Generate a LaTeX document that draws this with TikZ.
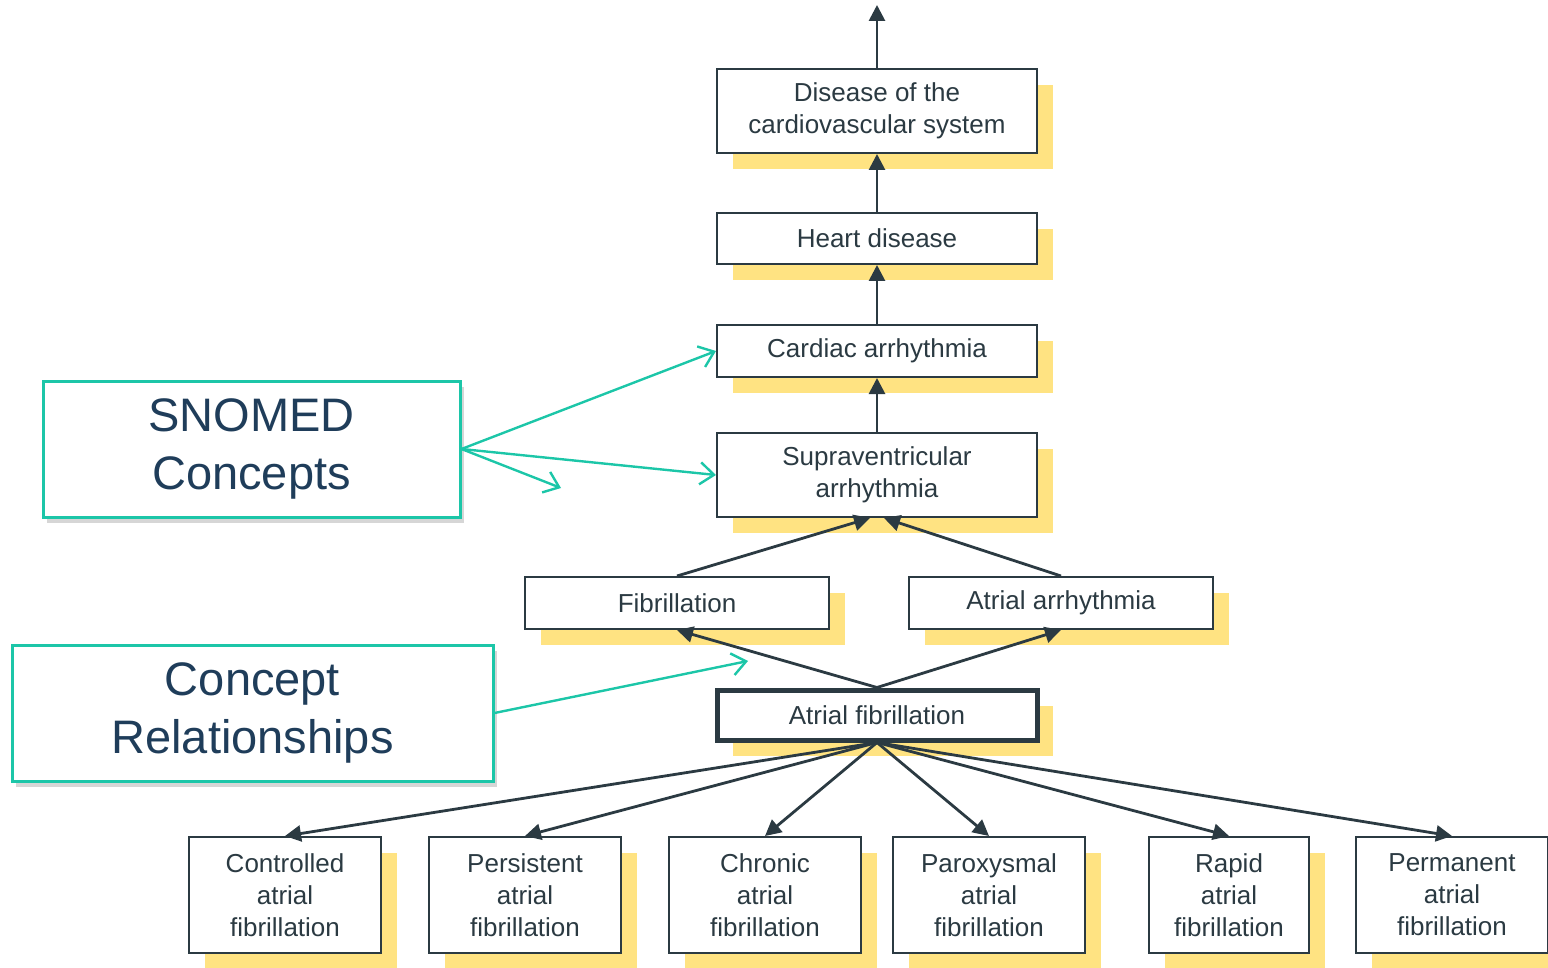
\documentclass[tikz,border=0pt]{standalone}
\usepackage{fontspec}
\setmainfont{Liberation Sans}
\usetikzlibrary{arrows.meta,shadows}
\definecolor{ink}{HTML}{2B3A42}
\definecolor{navy}{HTML}{1F3D5A}
\definecolor{mint}{HTML}{1CC6A8}
\definecolor{sun}{HTML}{FFE382}

\begin{document}
\begin{tikzpicture}[x=0.5pt, y=-0.5pt,
	box/.style = {draw=ink, line width=1pt, fill=white, text=ink, align=center, inner sep=0pt,
		font=\fontsize{13}{16}\selectfont, minimum width=160pt,
		drop shadow={shadow xshift=8pt, shadow yshift=-8pt, fill=sun, opacity=1}},
	leaf/.style = {box, minimum width=96pt, minimum height=58pt},
	note/.style = {draw=mint, line width=1.5pt, fill=white, text=navy, align=center, inner sep=0pt,
		font=\fontsize{23.5}{29}\selectfont, minimum height=68pt,
		drop shadow={shadow xshift=2pt, shadow yshift=-3pt, fill=black!40, opacity=0.4}},
	up/.style = {draw=ink, line width=1.4pt, -{Triangle[length=8pt, width=8pt]}},
	hint/.style = {draw=mint, line width=1.2pt, -{Straight Barb[length=7pt, width=11pt]}}]
	\useasboundingbox (0,0) rectangle (1548,968);

	% is-a chain
	\node[box, minimum height=42pt] (dis) at (877,111) {Disease of the\\cardiovascular system};
	\node[box, minimum height=25.5pt] (hd) at (877,238.5) {Heart disease};
	\node[box, minimum height=26pt] (ca) at (877,351) {Cardiac arrhythmia};
	\node[box, minimum height=42pt] (sva) at (877,475) {Supraventricular\\arrhythmia};
	\node[box, minimum width=152pt, minimum height=26pt] (fib) at (677,603) {Fibrillation};
	\node[box, minimum width=152pt, minimum height=26pt] (aa) at (1061,603) {Atrial arrhythmia};
	\node[box, line width=2.5pt, minimum width=160pt, minimum height=25pt] (af) at (877,715) {Atrial fibrillation};

	% children
	\node[leaf] (ctl) at (285,895) {Controlled\\atrial\\fibrillation};
	\node[leaf] (per) at (525,895) {Persistent\\atrial\\fibrillation};
	\node[leaf] (chr) at (765,895) {Chronic\\atrial\\fibrillation};
	\node[leaf] (par) at (989,895) {Paroxysmal\\atrial\\fibrillation};
	\node[leaf, minimum width=80pt] (rap) at (1229,895) {Rapid\\atrial\\fibrillation};
	\node[leaf] (prm) at (1452,895) {Permanent\\atrial\\fibrillation};

	% callouts
	\node[note, minimum width=208.5pt] (snomed) at (251.5,449) {SNOMED\\Concepts};
	\node[note, minimum width=240.5pt] (rel) at (252.5,713) {Concept\\Relationships};
	\coordinate (top) at (877,5);
	\coordinate (gap1) at (561,488);
	\coordinate (gap2) at (748,661);

	\draw[up] (dis) -- (top);
	\draw[up] (hd) -- (dis);
	\draw[up] (ca) -- (hd);
	\draw[up] (sva) -- (ca);
	\draw[up] (fib.north) -- ([xshift=-3.5pt]sva.south);
	\draw[up] (aa.north) -- ([xshift=3.5pt]sva.south);
	\draw[up] (af.north) -- (fib.south);
	\draw[up] (af.north) -- (aa.south);
	\foreach \c in {ctl, per, chr, par, rap, prm}
		\draw[up] (af.south) -- (\c.north);

	\draw[hint] (snomed.east) -- (ca.west);
	\draw[hint] (snomed.east) -- (sva.west);
	\draw[hint] (snomed.east) -- (gap1);
	\draw[hint] (rel.east) -- (gap2);
\end{tikzpicture}
\end{document}
